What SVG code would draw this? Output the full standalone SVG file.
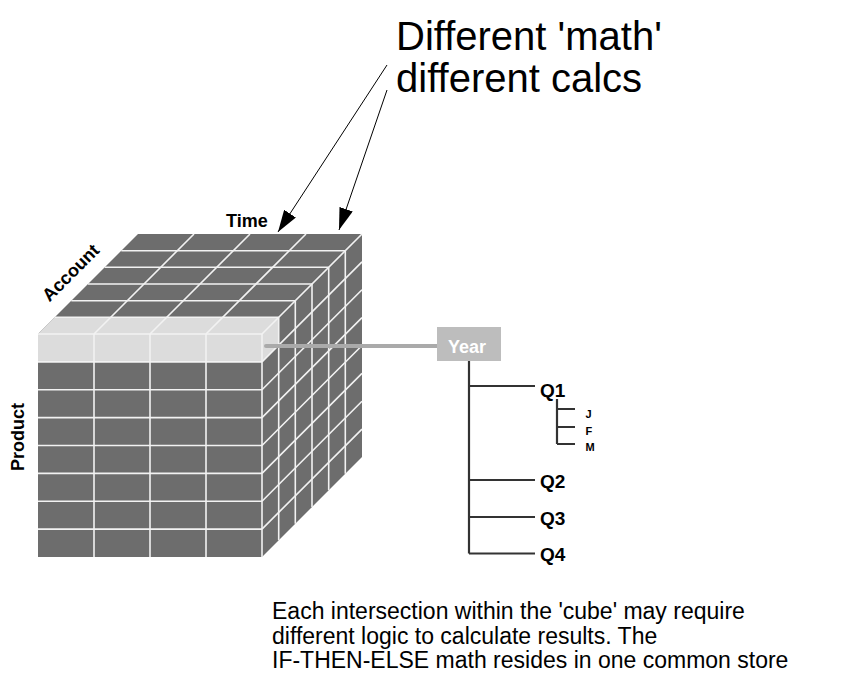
<svg xmlns="http://www.w3.org/2000/svg" width="860" height="685" viewBox="0 0 860 685">
<style>
.dark{fill:#6d6d6d}
.light{fill:#dcdcdc}
.grid{stroke:#f2f2f2;stroke-width:1.6;fill:none}
.lbl{font-family:"Liberation Sans",Arial,sans-serif;font-weight:bold;fill:#000}
.big{font-family:"Liberation Sans",Arial,sans-serif;font-size:40px;fill:#000}
.note{font-family:"Liberation Sans",Arial,sans-serif;font-size:23px;fill:#000}
.tree{stroke:#333;stroke-width:2.2;fill:none}
.arrow{stroke:#000;stroke-width:1;fill:none}
</style>
<defs>
<marker id="ah" viewBox="0 0 22 14" refX="22" refY="7" markerWidth="22" markerHeight="14" markerUnits="userSpaceOnUse" orient="auto">
<path d="M0,0 L22,7 L0,14 z" fill="#000"/>
</marker>
</defs>
<rect width="860" height="685" fill="#fff"/>

<g id="title">
<text class="big" x="396" y="50">Different 'math'</text>
<text class="big" x="396" y="92">different calcs</text>
</g>

<g id="cube">
<polygon class="dark" points="38,334 262,334 362,234 138,234"/>
<rect class="dark" x="38" y="334" width="224" height="223"/>
<polygon class="dark" points="262,334 362,234 362,457 262,557"/>
<rect class="light" x="38" y="334" width="224" height="27.9"/>
<polygon class="light" points="38,334 262,334 278.7,317.3 54.7,317.3"/>
<polygon class="light" points="262,334 278.7,317.3 278.7,345.2 262,361.9"/>
<g class="grid">
<path d="M94,334V557M150,334V557M206,334V557M262,334V557"/>
<path d="M38,334H262M38,361.9H262M38,389.8H262M38,417.6H262M38,445.5H262M38,473.4H262M38,501.3H262M38,529.1H262"/>
<path d="M54.7,317.3H278.7M71.3,300.7H295.3M88,284H312M104.7,267.3H328.7M121.3,250.7H345.3"/>
<path d="M94,334L194,234M150,334L250,234M206,334L306,234M262,334L362,234"/>
<path d="M278.7,317.3V540.3M295.3,300.7V523.7M312,284V507M328.7,267.3V490.3M345.3,250.7V473.7"/>
<path d="M262,361.9L362,261.9M262,389.8L362,289.8M262,417.6L362,317.6M262,445.5L362,345.5M262,473.4L362,373.4M262,501.3L362,401.3M262,529.1L362,429.1"/>
</g>
<text class="lbl" font-size="18" x="226" y="227">Time</text>
<text class="lbl" font-size="18" transform="translate(75,277) rotate(-45)" text-anchor="middle">Account</text>
<text class="lbl" font-size="18" transform="translate(24,437) rotate(-90)" text-anchor="middle">Product</text>
</g>

<g id="connectors">
<line class="arrow" x1="387" y1="65" x2="278" y2="232" marker-end="url(#ah)"/>
<line class="arrow" x1="387" y1="90" x2="339" y2="230" marker-end="url(#ah)"/>
<line x1="266" y1="346" x2="437" y2="346" stroke="#aaaaaa" stroke-width="4" stroke-linecap="round"/>
<path class="tree" d="M469,361V553.5M469,386H535M469,480H535M469,517H535M469,553.5H535"/>
<path class="tree" d="M557,399V444M557,409H575M557,427H575M557,444H575"/>
</g>

<g id="year">
<rect x="437" y="327" width="64" height="34" fill="#bdbdbd"/>
<text class="lbl" font-size="18" x="467" y="353" text-anchor="middle" style="fill:#fff">Year</text>
</g>
<g id="q1"><text class="lbl" font-size="19" x="540" y="396.5">Q1</text></g>
<g id="j"><text class="lbl" font-size="11" x="585.5" y="417.5">J</text></g>
<g id="f"><text class="lbl" font-size="11" x="585.5" y="434.5">F</text></g>
<g id="m"><text class="lbl" font-size="11" x="585.5" y="450.5">M</text></g>
<g id="q2"><text class="lbl" font-size="19" x="540" y="488">Q2</text></g>
<g id="q3"><text class="lbl" font-size="19" x="540" y="524.5">Q3</text></g>
<g id="q4"><text class="lbl" font-size="19" x="540" y="561">Q4</text></g>

<g id="note">
<text class="note" x="272" y="619">Each intersection within the 'cube' may require</text>
<text class="note" x="272" y="643.5">different logic to calculate results. The</text>
<text class="note" x="272" y="668">IF-THEN-ELSE math resides in one common store</text>
</g>
</svg>
